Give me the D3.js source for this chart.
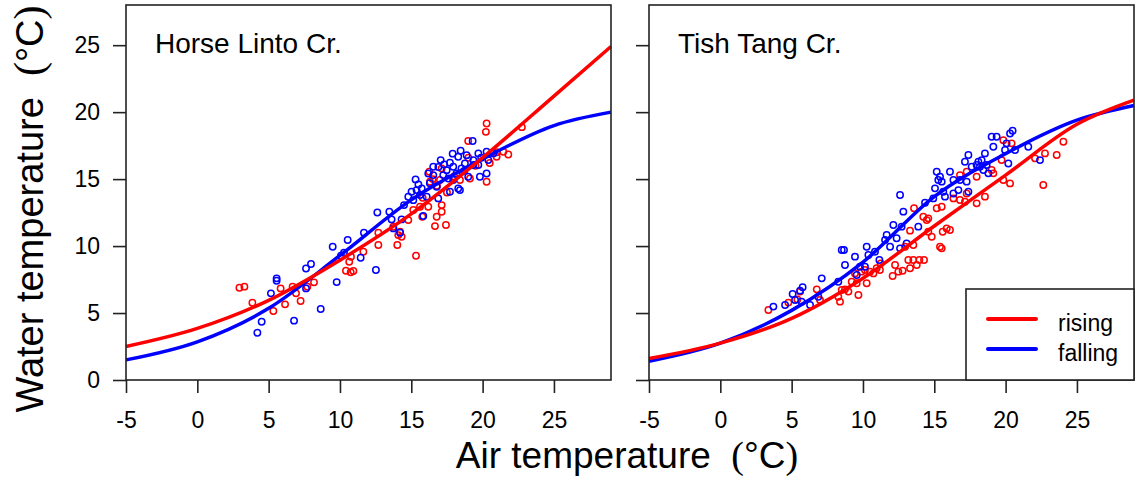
<!DOCTYPE html>
<html lang="en">
<head>
<meta charset="UTF-8">
<title>Water vs air temperature</title>
<script src="https://d3js.org/d3.v7.min.js"></script>
<style>
  body { margin: 0; background: #fff; }
  svg text { font-family: "Liberation Sans", Arial, sans-serif; fill: #000; white-space: pre; }
</style>
</head>
<body>
<svg id="chart" width="1135" height="486"></svg>
<script>
// ---- data ----
const panels = ["Horse Linto Cr.", "Tish Tang Cr."];
const xTicks = [-5, 0, 5, 10, 15, 20, 25];
const yTicks = [0, 5, 10, 15, 20, 25];

// fitted curves, sampled at these air temperatures
const fitAir = [-5, 0, 5, 10, 15, 20, 25, 29];
const horseRisingFit  = [2.5, 3.85, 5.95, 8.95, 12.4, 16.6, 21.2, 24.9];
const horseFallingFit = [1.5, 2.85, 5.35, 9.3, 13.45, 16.5, 19.0, 20.0];
const tishRisingFit   = [1.6, 2.75, 4.6, 7.6, 11.5, 15.3, 19.1, 20.9];
const tishFallingFit  = [1.4, 2.75, 5.2, 8.8, 13.7, 16.9, 19.4, 20.5];

// observations [air, water]
const horseRising = [
  [2.95,6.89],[3.3,6.97],[3.86,5.77],[5.33,5.15],[5.84,6.84],[6.15,5.65],[6.68,6.97],[6.92,6.47],
  [7.24,5.9],[7.71,6.97],[8.18,7.29],[10.42,8.16],[10.75,8.04],[10.94,8.14],[10.65,8.83],[10.77,9.2],
  [11.64,9.58],[12.69,10.08],[12.69,11.0],[14.02,10.08],[14.32,10.7],[15.33,9.28],[14.21,11.07],
  [14.79,11.94],[15.14,12.69],[15.77,12.19],[16.19,12.94],[16.78,12.19],[16.66,11.49],[17.13,12.56],
  [17.43,11.57],[17.13,13.06],[16.31,14.8],[17.01,14.93],[16.26,15.55],[17.13,15.8],[18.99,17.84],
  [20.28,19.15],[20.23,18.53],[20.28,14.8],[21.8,16.84],[21.45,17.04],[20.98,16.67],[19.11,15.05],
  [18.41,14.93],[15.61,12.94],[13.74,11.44],[14.09,10.82],[22.75,18.88],[18.0,15.2],[19.5,16.0],
  [17.5,14.0],[16.8,14.5],[19.0,16.6],[20.5,16.2],[21.0,17.0],[15.8,13.6],[16.5,15.0]
];
const horseFalling = [
  [4.21,3.53],[4.51,4.35],[5.16,6.47],[5.56,7.59],[5.56,7.41],[6.78,4.43],[7.62,6.84],[7.62,8.33],
  [7.97,8.66],[8.65,5.3],[9.49,9.95],[9.77,7.31],[10.07,9.28],[10.28,9.5],[10.54,10.45],[11.45,9.13],
  [11.68,11.0],[12.52,8.21],[12.62,12.51],[13.46,12.56],[13.62,11.99],[14.32,11.99],[13.74,11.32],
  [14.21,11.0],[14.49,13.06],[15.02,14.06],[15.3,14.98],[15.84,12.24],[15.14,13.43],[15.61,13.81],
  [16.19,15.42],[16.54,15.3],[17.06,16.42],[17.71,16.22],[17.48,15.67],[17.94,15.92],[18.29,16.67],
  [18.46,17.12],[18.76,16.17],[19.3,17.84],[18.99,15.18],[18.41,14.18],[17.71,14.06],[17.94,14.93],
  [19.81,15.18],[20.28,15.42],[20.28,17.04],[19.7,16.92],[19.35,16.42],[20.75,16.92],[20.4,16.42],
  [16.78,14.43],[16.08,13.68],[16.89,13.56],[15.37,14.18],[16.54,15.92],[17.24,15.3],[18.17,15.42],
  [18.52,15.8],[19.35,16.05],[19.7,16.05],[18.88,16.79],[17.6,15.05],[15.73,14.3],[14.79,13.68],
  [18.29,14.3],[16.9,15.9],[17.9,16.9],[18.7,15.6],[19.9,16.6],[17.3,16.1],[16.3,14.7],[15.5,14.6]
];
const tishRising = [
  [3.37,5.23],[4.77,5.78],[5.4,6.02],[5.59,6.6],[6.76,6.77],[6.99,5.97],[8.27,6.22],[8.39,5.85],
  [8.51,6.72],[8.74,6.77],[8.98,6.6],[9.21,7.34],[9.44,7.96],[9.56,7.22],[9.68,6.35],[9.9,8.09],
  [10.14,8.21],[10.26,7.22],[10.49,8.09],[10.73,7.96],[10.96,8.34],[11.19,8.21],[11.24,8.71],
  [12.08,7.77],[12.25,8.59],[12.48,8.09],[12.78,8.16],[12.95,9.95],[13.18,8.96],[13.3,8.34],
  [13.53,8.96],[13.77,8.59],[13.95,8.96],[14.28,8.96],[13.3,11.15],[13.53,10.08],[13.58,12.82],
  [14.23,12.19],[14.47,11.94],[14.58,12.07],[14.58,11.07],[14.82,10.7],[15.17,12.82],[15.4,9.95],
  [15.52,9.83],[15.59,11.07],[15.87,11.32],[16.1,11.2],[15.52,12.94],[16.34,13.56],[16.8,13.44],
  [17.15,13.31],[17.27,13.93],[16.8,15.3],[17.27,15.55],[17.97,13.19],[17.97,15.18],[18.55,13.69],
  [19.02,15.68],[19.14,15.43],[19.84,14.93],[20.31,14.68],[19.84,17.91],[20.42,17.67],[19.72,16.42],
  [22.64,14.56],[22.06,16.55],[22.76,16.92],[23.58,16.8],[24.05,17.79]
];
const tishFalling = [
  [3.72,5.48],[4.54,5.6],[5.07,6.42],[5.24,5.97],[5.59,6.67],[5.77,6.92],[5.7,5.85],[6.29,5.6],
  [6.87,6.22],[7.11,7.59],[8.27,7.34],[8.51,9.71],[8.67,9.71],[8.74,8.59],[9.44,9.21],[9.56,7.84],
  [9.79,8.46],[10.14,8.46],[10.26,9.95],[10.38,9.33],[10.84,9.58],[11.15,8.96],[11.55,10.45],
  [11.66,10.83],[11.9,9.95],[12.13,11.57],[12.36,10.58],[12.6,9.83],[12.71,11.45],[12.83,12.57],
  [13.06,10.2],[12.6,13.81],[13.88,11.45],[14.35,13.24],[14.93,13.56],[15.05,14.31],[15.17,15.55],
  [15.28,14.93],[15.4,15.18],[15.52,14.81],[15.63,14.06],[15.75,13.69],[16.1,15.55],[16.34,14.93],
  [16.34,13.93],[16.69,14.18],[16.8,14.93],[17.27,14.81],[17.39,14.06],[17.15,16.3],[17.39,16.8],
  [17.62,15.92],[17.97,16.05],[18.09,16.3],[18.2,15.92],[18.32,16.42],[18.44,15.68],[18.55,16.92],
  [18.67,16.05],[18.79,15.43],[19.14,17.42],[19.02,18.16],[19.37,18.16],[19.96,17.17],[20.07,17.67],
  [20.19,16.17],[20.31,18.41],[20.49,18.61],[20.66,17.17],[21.59,17.42],[22.41,16.42]
];

const series = [
  { rising: horseRising, falling: horseFalling, risingFit: horseRisingFit, fallingFit: horseFallingFit },
  { rising: tishRising,  falling: tishFalling,  risingFit: tishRisingFit,  fallingFit: tishFallingFit }
];

// ---- layout ----
const RED = "#ff0000", BLUE = "#0000ff";
const plotTop = 5, plotBottom = 380;
const lefts = [126, 649], panelW = 485;
const FONT = "Liberation Sans, Arial, sans-serif";

const svg = d3.select("#chart");
const y = d3.scaleLinear().domain([0, 28]).range([plotBottom, plotTop]);

panels.forEach((name, i) => {
  const x = d3.scaleLinear().domain([-5, 29]).range([lefts[i], lefts[i] + panelW]);
  const g = svg.append("g");
  const s = series[i];

  // points
  g.selectAll(".rp").data(s.rising).enter().append("circle")
    .attr("cx", d => x(d[0])).attr("cy", d => y(d[1])).attr("r", 3.2)
    .attr("fill", "none").attr("stroke", RED).attr("stroke-width", 1.5);
  g.selectAll(".fp").data(s.falling).enter().append("circle")
    .attr("cx", d => x(d[0])).attr("cy", d => y(d[1])).attr("r", 3.2)
    .attr("fill", "none").attr("stroke", BLUE).attr("stroke-width", 1.5);

  // fitted curves
  const line = d3.line().x((d, j) => x(fitAir[j])).y(d => y(d)).curve(d3.curveMonotoneX);
  g.append("path").datum(s.fallingFit).attr("d", line)
    .attr("fill", "none").attr("stroke", BLUE).attr("stroke-width", 3.5);
  g.append("path").datum(s.risingFit).attr("d", line)
    .attr("fill", "none").attr("stroke", RED).attr("stroke-width", 3.5);

  // frame
  g.append("rect").attr("x", lefts[i]).attr("y", plotTop).attr("width", panelW).attr("height", plotBottom - plotTop)
    .attr("fill", "none").attr("stroke", "#222").attr("stroke-width", 1.6);

  // x axis
  const xa = g.append("g").attr("transform", `translate(0,${plotBottom})`)
    .call(d3.axisBottom(x).tickValues(xTicks).tickSize(13).tickPadding(19).tickFormat(d => String(d)));
  xa.select(".domain").remove();
  xa.selectAll("line").attr("stroke", "#222").attr("stroke-width", 1.6);
  xa.selectAll("text").attr("font-size", 23).attr("font-family", FONT);

  // y axis (labels only on left panel)
  const ya = g.append("g").attr("transform", `translate(${lefts[i]},0)`)
    .call(d3.axisLeft(y).tickValues(yTicks).tickSize(13).tickPadding(13)
      .tickFormat(i === 0 ? d => String(d) : () => ""));
  ya.select(".domain").remove();
  ya.selectAll("line").attr("stroke", "#222").attr("stroke-width", 1.6);
  ya.selectAll("text").attr("font-size", 23).attr("font-family", FONT);

  // panel label
  g.append("text").attr("x", lefts[i] + 29).attr("y", 53)
    .attr("font-size", 28).text(name);
});

// legend in right panel
const lg = svg.append("g");
const lx = 966, ly = 289, lw = lefts[1] + panelW - 966, lh = plotBottom - 289;
lg.append("rect").attr("x", lx).attr("y", ly).attr("width", lw).attr("height", lh)
  .attr("fill", "#fff").attr("stroke", "#222").attr("stroke-width", 1.6);
[["rising", RED, 319], ["falling", BLUE, 349]].forEach(([lab, col, yy]) => {
  lg.append("line").attr("x1", 988).attr("x2", 1036).attr("y1", yy).attr("y2", yy)
    .attr("stroke", col).attr("stroke-width", 4).attr("stroke-linecap", "round");
  lg.append("text").attr("x", 1058).attr("y", yy + 12).attr("font-size", 23).text(lab);
});

// axis titles
const xt = svg.append("text").attr("x", 627).attr("y", 468).attr("text-anchor", "middle").attr("font-size", 37);
xt.append("tspan").text("Air temperature  ");
xt.append("tspan").attr("font-family", "Liberation Serif, serif").attr("font-size", 38).text("(");
xt.append("tspan").text("°C");
xt.append("tspan").attr("font-family", "Liberation Serif, serif").attr("font-size", 38).text(")");

const yt = svg.append("text").attr("transform", "translate(43,209) rotate(-90)")
  .attr("text-anchor", "middle").attr("font-size", 38);
yt.append("tspan").text("Water temperature  ");
yt.append("tspan").attr("font-family", "Liberation Serif, serif").attr("font-size", 42).text("(");
yt.append("tspan").text("°C");
yt.append("tspan").attr("font-family", "Liberation Serif, serif").attr("font-size", 42).text(")");
</script>
</body>
</html>
